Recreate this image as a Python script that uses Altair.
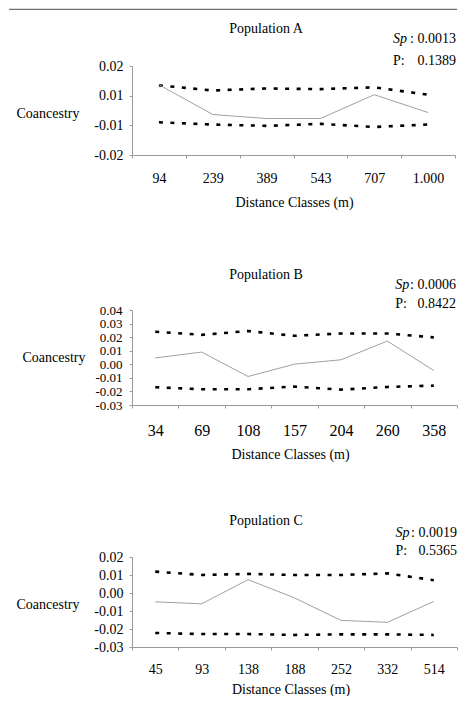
import altair as alt
import pandas as pd

FONT = "Liberation Serif"
OBS_GRAY = "#a0a0a0"
AXIS_GRAY = "#9a9a9a"

# ---------------- data ----------------
titles = ["Population A", "Population B", "Population C"]
sp_values = ["0.0013", "0.0006", "0.0019"]
p_values = ["0.1389", "0.8422", "0.5365"]
x_title = "Distance Classes (m)"
y_title = "Coancestry"

classes_a = ["94", "239", "389", "543", "707", "1.000"]
coan_a = [0.0116, -0.0018, -0.0036, -0.0036, 0.0071, -0.0009]
upper_a = [0.0113, 0.0090, 0.0099, 0.0096, 0.0104, 0.0071]
lower_a = [-0.0053, -0.0063, -0.0069, -0.0060, -0.0074, -0.0063]
yticks_a = [-0.02, -0.00667, 0.00667, 0.02]
ylabels_a = ["-0.02", "-0.01", "0.01", "0.02"]

classes_b = ["34", "69", "108", "157", "204", "260", "358"]
coan_b = [0.0047, 0.0090, -0.0090, 0.0001, 0.0033, 0.0171, -0.0046]
upper_b = [0.0240, 0.0217, 0.0245, 0.0210, 0.0227, 0.0227, 0.0198]
lower_b = [-0.0169, -0.0184, -0.0184, -0.0164, -0.0187, -0.0167, -0.0157]
yticks_b = [-0.03, -0.02, -0.01, 0.0, 0.01, 0.02, 0.03, 0.04]
ylabels_b = ["-0.03", "-0.02", "-0.01", "0.00", "0.01", "0.02", "0.03", "0.04"]

classes_c = ["45", "93", "138", "188", "252", "332", "514"]
coan_c = [-0.0049, -0.0060, 0.0074, -0.0027, -0.0152, -0.0163, -0.0047]
upper_c = [0.0119, 0.0100, 0.0106, 0.0100, 0.0100, 0.0109, 0.0071]
lower_c = [-0.0222, -0.0228, -0.0228, -0.0233, -0.0230, -0.0230, -0.0233]
yticks_c = [-0.03, -0.02, -0.01, 0.0, 0.01, 0.02]
ylabels_c = ["-0.03", "-0.02", "-0.01", "0.00", "0.01", "0.02"]

# ---------------- layout geometry (pixels, relative to each plot area) ----------------
geo_a = dict(w=323, h=89, xlab=14, xlab_pad=13, xtitle_x=162, xtitle_y=47.7,
             ylab=14, ylab_pad=6, ytitle_x=-116, ytitle_y=47,
             title_x=134, title_y=-36.7, sp_left=261, sp_right=324, sp_y=-27.2, p_y=-5.5,
             left=-123, top=-56.7, bottom=159.3, rule=True, rule_right=325)
geo_b = dict(w=325, h=95, xlab=16, xlab_pad=14, xtitle_x=158, xtitle_y=49.7,
             ylab=13, ylab_pad=7, ytitle_x=-110, ytitle_y=47.7,
             title_x=134, title_y=-35.5, sp_left=263.3, sp_right=324, sp_y=-25, p_y=-6,
             left=-123, top=-83.3, bottom=162.7, rule=False, rule_right=0)
geo_c = dict(w=325, h=90, xlab=14, xlab_pad=12, xtitle_x=158.5, xtitle_y=42,
             ylab=14, ylab_pad=6, ytitle_x=-116, ytitle_y=47.4,
             title_x=134, title_y=-36.5, sp_left=263.5, sp_right=325, sp_y=-24.5, p_y=-6.3,
             left=-123, top=-83.3, bottom=100, rule=False, rule_right=0)


def label_expr(vals, labels):
    expr = "''"
    for v, l in zip(vals, labels):
        expr = f"abs(datum.value - ({v})) < 0.001 ? '{l}' : " + expr
    return expr


one = pd.DataFrame({"k": [0]})


def text_layer(txt, x, y, align, size=14, style="normal"):
    return alt.Chart(one).mark_text(
        text=txt, font=FONT, fontSize=size, fontStyle=style, align=align,
        baseline="middle", color="black"
    ).encode(x=alt.value(x), y=alt.value(y))


def panel(title, sp, pv, classes, coan, upper, lower, yticks, ylabels, g):
    n = len(classes)
    df = pd.DataFrame({
        "cls": classes * 3,
        "series": ["obs"] * n + ["upper"] * n + ["lower"] * n,
        "v": coan + upper + lower,
    })
    x = alt.X(
        "cls:N", sort=classes, bandPosition=0.5,
        scale=alt.Scale(type="band", paddingInner=0, paddingOuter=0),
        axis=alt.Axis(
            title=x_title, labelAngle=0, tickBand="extent",
            labelFont=FONT, labelFontSize=g["xlab"], labelColor="black",
            labelPadding=g["xlab_pad"], tickSize=3, tickColor=AXIS_GRAY,
            domainColor=AXIS_GRAY, titleFont=FONT, titleFontSize=14,
            titleFontWeight="normal", titleColor="black", titleBaseline="middle",
            titleX=g["xtitle_x"], titleY=g["xtitle_y"]),
    )
    y = alt.Y(
        "v:Q",
        scale=alt.Scale(domain=[yticks[0], yticks[-1]], nice=False, zero=False),
        axis=alt.Axis(
            values=yticks, labelExpr=label_expr(yticks, ylabels), grid=False,
            labelFont=FONT, labelFontSize=g["ylab"], labelColor="black",
            labelPadding=g["ylab_pad"], tickSize=3, tickColor=AXIS_GRAY,
            domainColor=AXIS_GRAY, title=y_title, titleAngle=0, titleAlign="left",
            titleBaseline="middle", titleX=g["ytitle_x"], titleY=g["ytitle_y"],
            titleFont=FONT, titleFontSize=14, titleFontWeight="normal",
            titleColor="black"),
    )
    bands = alt.Chart(df).transform_filter("datum.series != 'obs'").mark_line(
        color="black", strokeWidth=2.6, strokeDash=[4, 7.5], strokeCap="butt"
    ).encode(x=x, y=y, detail="series:N")
    obs = alt.Chart(df).transform_filter("datum.series == 'obs'").mark_line(
        color=OBS_GRAY, strokeWidth=1
    ).encode(x=x, y=y)

    layers = [bands, obs,
              text_layer(title, g["title_x"], g["title_y"], "center"),
              text_layer("Sp", g["sp_left"], g["sp_y"], "left", style="italic"),
              text_layer(": " + sp, g["sp_right"], g["sp_y"], "right"),
              text_layer("P:", g["sp_left"], g["p_y"], "left"),
              text_layer(pv, g["sp_right"], g["p_y"], "right")]
    # invisible extent marker (controls vertical placement of the panel)
    layers.append(alt.Chart(one).mark_rule(color="white", strokeOpacity=0).encode(
        x=alt.value(g["left"]), y=alt.value(g["top"]), y2=alt.value(g["bottom"])))
    if g["rule"]:
        layers.append(alt.Chart(one).mark_rule(color="#4d4d4d", strokeWidth=1).encode(
            x=alt.value(g["left"]), x2=alt.value(g["rule_right"]), y=alt.value(g["top"])))
    return alt.layer(*layers).properties(width=g["w"], height=g["h"])


pa = panel(titles[0], sp_values[0], p_values[0], classes_a, coan_a, upper_a, lower_a,
           yticks_a, ylabels_a, geo_a)
pb = panel(titles[1], sp_values[1], p_values[1], classes_b, coan_b, upper_b, lower_b,
           yticks_b, ylabels_b, geo_b)
pc = panel(titles[2], sp_values[2], p_values[2], classes_c, coan_c, upper_c, lower_c,
           yticks_c, ylabels_c, geo_c)

chart = alt.ConcatChart(concat=[pa, pb, pc], columns=1, spacing=0,
                        padding=0).configure_view(strokeWidth=0)

chart.save("out.html", embed_options={"renderer": "svg", "actions": False})
